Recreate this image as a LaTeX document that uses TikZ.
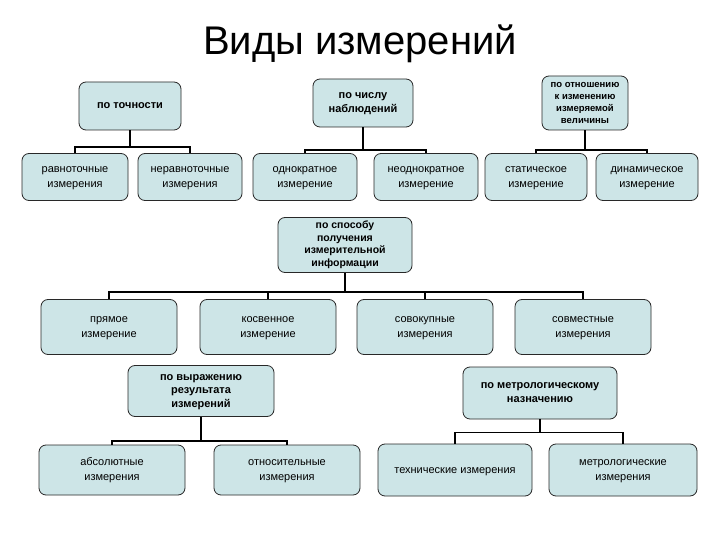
\documentclass[tikz,border=0pt]{standalone}
\usepackage{fontspec}
\setmainfont{Liberation Sans}
\definecolor{boxc}{RGB}{205,229,231}
\definecolor{edgec}{RGB}{40,40,40}
\tikzset{
  basebox/.style={draw=edgec, line width=0.8pt, fill=boxc, rounded corners=7pt, align=center, inner sep=1pt},
  catbox/.style={basebox, font=\fontsize{11}{14}\selectfont\bfseries},
  leafbox/.style={basebox, font=\fontsize{11}{15}\selectfont},
  link/.style={line width=1.8pt, black},
}
\begin{document}
\begin{tikzpicture}[x=1pt,y=-1pt]
\useasboundingbox (0,0) rectangle (720,540);
\fill[white] (0,0) rectangle (720,540);
\node[anchor=base] (title) at (360,55) {\fontsize{40}{44}\selectfont Виды измерений};

% row 1 categories
\node[catbox, minimum width=102pt, minimum height=48pt] (tochn) at (130,106) {\strut по точности\strut};
\node[catbox, minimum width=100pt, minimum height=48pt] (chislo) at (363,103) {\strut по числу\\наблюдений\strut};
\node[catbox, minimum width=86pt, minimum height=54pt, font=\fontsize{9.5}{12}\selectfont\bfseries] (otnosh) at (585,103) {\strut по отношению\\к изменению\\измеряемой\\величины\strut};

% row 1 leaves
\node[leafbox, minimum width=106pt, minimum height=47pt] (ravn) at (75,177) {\strut равноточные\\измерения\strut};
\node[leafbox, minimum width=104pt, minimum height=47pt] (nerav) at (190,177) {\strut неравноточные\\измерения\strut};
\node[leafbox, minimum width=104pt, minimum height=47pt] (odno) at (305,177) {\strut однократное\\измерение\strut};
\node[leafbox, minimum width=104pt, minimum height=47pt] (neodno) at (426,177) {\strut неоднократное\\измерение\strut};
\node[leafbox, minimum width=102pt, minimum height=47pt] (stat) at (536,177) {\strut статическое\\измерение\strut};
\node[leafbox, minimum width=102pt, minimum height=47pt] (dinam) at (647,177) {\strut динамическое\\измерение\strut};

% row 2
\node[catbox, minimum width=134pt, minimum height=55pt, font=\fontsize{10.5}{12.5}\selectfont\bfseries] (sposob) at (345,245) {\strut по способу\\получения\\измерительной\\информации\strut};
\node[leafbox, minimum width=136pt, minimum height=55pt] (pryam) at (109,327) {\strut прямое\\измерение\strut};
\node[leafbox, minimum width=136pt, minimum height=55pt] (kosv) at (268,327) {\strut косвенное\\измерение\strut};
\node[leafbox, minimum width=136pt, minimum height=55pt] (sovok) at (425,327) {\strut совокупные\\измерения\strut};
\node[leafbox, minimum width=136pt, minimum height=55pt] (sovm) at (583,327) {\strut совместные\\измерения\strut};

% row 3
\node[catbox, minimum width=146pt, minimum height=51pt, font=\fontsize{11}{13.5}\selectfont\bfseries] (vyraz) at (201,391) {\strut по выражению\\результата\\измерений\strut};
\node[catbox, minimum width=154pt, minimum height=52pt] (metr) at (540,393) {\strut по метрологическому\\назначению\strut};
\node[leafbox, minimum width=146pt, minimum height=50pt] (abs) at (112,470) {\strut абсолютные\\измерения\strut};
\node[leafbox, minimum width=146pt, minimum height=50pt] (otnos) at (287,470) {\strut относительные\\измерения\strut};
\node[leafbox, minimum width=154pt, minimum height=52pt] (tekh) at (455,470) {\strut технические измерения\strut};
\node[leafbox, minimum width=148pt, minimum height=52pt] (metrol) at (623,470) {\strut метрологические\\измерения\strut};

% connectors
\draw[link] (tochn.south) -- ++(0,17) coordinate (b1);
\draw[link] (ravn.north) |- (b1) -| (nerav.north);
\draw[link] (chislo.south) -- ++(0,23) coordinate (b2);
\draw[link] (odno.north) |- (b2) -| (neodno.north);
\draw[link] (otnosh.south) -- ++(0,20) coordinate (b3);
\draw[link] (stat.north) |- (b3) -| (dinam.north);
\draw[link] (sposob.south) -- ++(0,19) coordinate (b4);
\draw[link] (pryam.north) |- (b4) -| (sovm.north);
\draw[link] (kosv.north) -- (kosv.north |- b4);
\draw[link] (sovok.north) -- (sovok.north |- b4);
\draw[link] (vyraz.south) -- ++(0,24) coordinate (b5);
\draw[link] (abs.north) |- (b5) -| (otnos.north);
\draw[link] (metr.south) -- ++(0,13) coordinate (b6);
\draw[link] (tekh.north) |- (b6) -| (metrol.north);
\end{tikzpicture}
\end{document}
